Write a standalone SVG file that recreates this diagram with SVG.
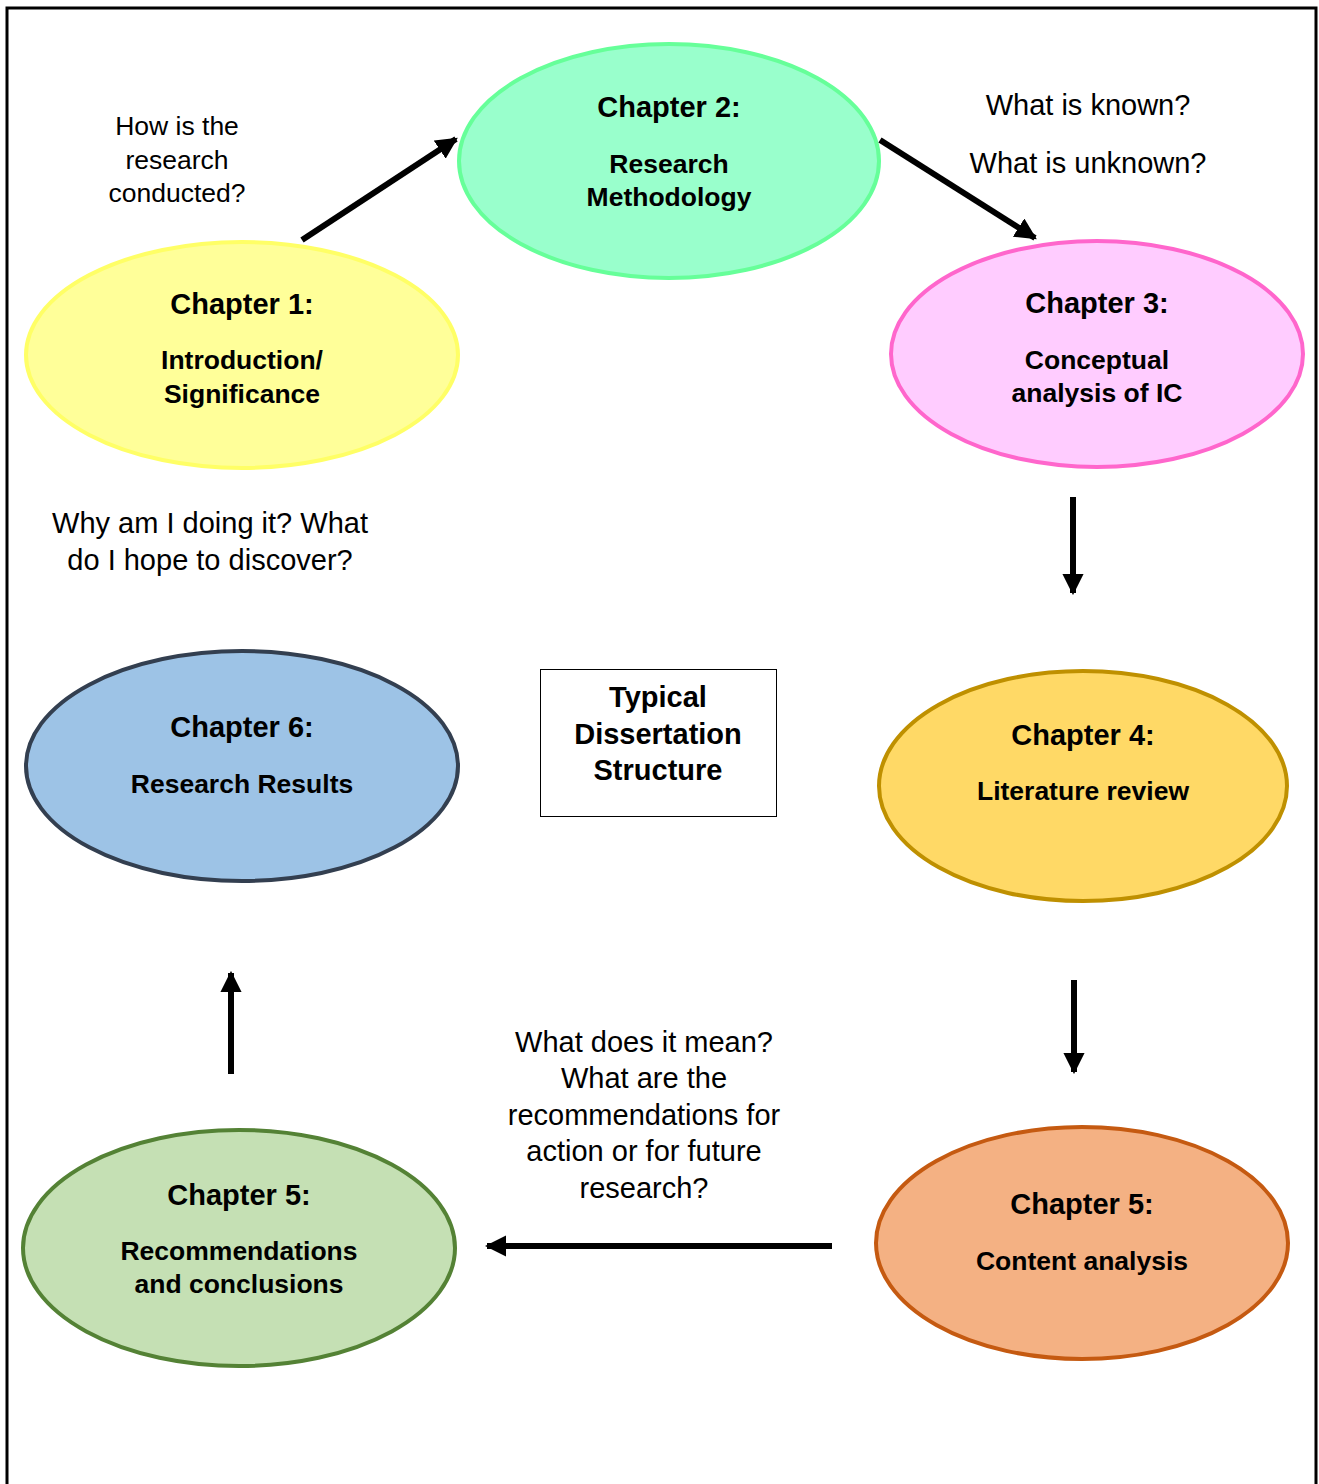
<svg xmlns="http://www.w3.org/2000/svg" width="1319" height="1484" viewBox="0 0 1319 1484">
  <style>
    text { font-family: "Liberation Sans", Arial, sans-serif; fill: #000; text-anchor: middle; }
    .title { font-size: 29px; font-weight: bold; }
    .sub { font-size: 26.5px; font-weight: bold; }
    .q { font-size: 29px; }
    .qs { font-size: 26.5px; }
    .box { font-size: 29px; font-weight: bold; }
    .node ellipse { stroke-width: 4; }
    .conn line { stroke: #000; stroke-width: 6; }
  </style>
  <defs>
    <marker id="head" viewBox="0 0 10 10" refX="9" refY="5" markerWidth="3.6" markerHeight="3.6" orient="auto" markerUnits="strokeWidth">
      <path d="M0,0 L10,5 L0,10 z" fill="#000"/>
    </marker>
  </defs>

  <rect x="0" y="0" width="1319" height="1484" fill="#fff"/>
  <!-- page frame -->
  <path d="M7,1484 V8 H1316 V1484" fill="none" stroke="#000" stroke-width="3"/>

  <g id="ch1" class="node">
    <ellipse cx="242" cy="355" rx="216" ry="113" fill="#FFFF99" stroke="#FFFF66"/>
    <text class="title" x="242" y="314">Chapter 1:</text>
    <text class="sub" x="242" y="369">Introduction/</text>
    <text class="sub" x="242" y="403">Significance</text>
  </g>

  <g id="ch2" class="node">
    <ellipse cx="669" cy="161" rx="210" ry="117" fill="#99FFCC" stroke="#66FF99"/>
    <text class="title" x="669" y="117">Chapter 2:</text>
    <text class="sub" x="669" y="173">Research</text>
    <text class="sub" x="669" y="206">Methodology</text>
  </g>

  <g id="ch3" class="node">
    <ellipse cx="1097" cy="354" rx="206" ry="113" fill="#FFCCFF" stroke="#FF66CC"/>
    <text class="title" x="1097" y="313">Chapter 3:</text>
    <text class="sub" x="1097" y="369">Conceptual</text>
    <text class="sub" x="1097" y="402">analysis of IC</text>
  </g>

  <g id="ch4" class="node">
    <ellipse cx="1083" cy="786" rx="204" ry="115" fill="#FFD966" stroke="#BF9000"/>
    <text class="title" x="1083" y="745">Chapter 4:</text>
    <text class="sub" x="1083" y="800">Literature review</text>
  </g>

  <g id="ch5-content" class="node">
    <ellipse cx="1082" cy="1243" rx="206" ry="116" fill="#F4B183" stroke="#C55A11"/>
    <text class="title" x="1082" y="1214">Chapter 5:</text>
    <text class="sub" x="1082" y="1270">Content analysis</text>
  </g>

  <g id="ch5-recs" class="node">
    <ellipse cx="239" cy="1248" rx="216" ry="118" fill="#C5E0B4" stroke="#548235"/>
    <text class="title" x="239" y="1205">Chapter 5:</text>
    <text class="sub" x="239" y="1260">Recommendations</text>
    <text class="sub" x="239" y="1293">and conclusions</text>
  </g>

  <g id="ch6" class="node">
    <ellipse cx="242" cy="766" rx="216" ry="115" fill="#9DC3E6" stroke="#333F50"/>
    <text class="title" x="242" y="737">Chapter 6:</text>
    <text class="sub" x="242" y="793">Research Results</text>
  </g>

  <g id="title-box" class="node">
    <rect x="540.5" y="669.5" width="236" height="147" fill="#fff" stroke="#000" stroke-width="1"/>
    <text class="box" x="658" y="707">Typical</text>
    <text class="box" x="658" y="744">Dissertation</text>
    <text class="box" x="658" y="780">Structure</text>
  </g>

  <g id="questions">
    <text class="qs" x="177" y="135">How is the</text>
    <text class="qs" x="177" y="169">research</text>
    <text class="qs" x="177" y="202">conducted?</text>
    <text class="q" x="1088" y="115">What is known?</text>
    <text class="q" x="1088" y="173">What is unknown?</text>
    <text class="q" x="210" y="533">Why am I doing it? What</text>
    <text class="q" x="210" y="570">do I hope to discover?</text>
    <text class="q" x="644" y="1052">What does it mean?</text>
    <text class="q" x="644" y="1088">What are the</text>
    <text class="q" x="644" y="1125">recommendations for</text>
    <text class="q" x="644" y="1161">action or for future</text>
    <text class="q" x="644" y="1198">research?</text>
  </g>

  <g id="connectors" class="conn">
    <line x1="302" y1="240" x2="456" y2="139" marker-end="url(#head)"/>
    <line x1="880" y1="140" x2="1035" y2="238" marker-end="url(#head)"/>
    <line x1="1073" y1="497" x2="1073" y2="593" marker-end="url(#head)"/>
    <line x1="1074" y1="980" x2="1074" y2="1072" marker-end="url(#head)"/>
    <line x1="832" y1="1246" x2="487" y2="1246" marker-end="url(#head)"/>
    <line x1="231" y1="1074" x2="231" y2="973" marker-end="url(#head)"/>
  </g>
</svg>
